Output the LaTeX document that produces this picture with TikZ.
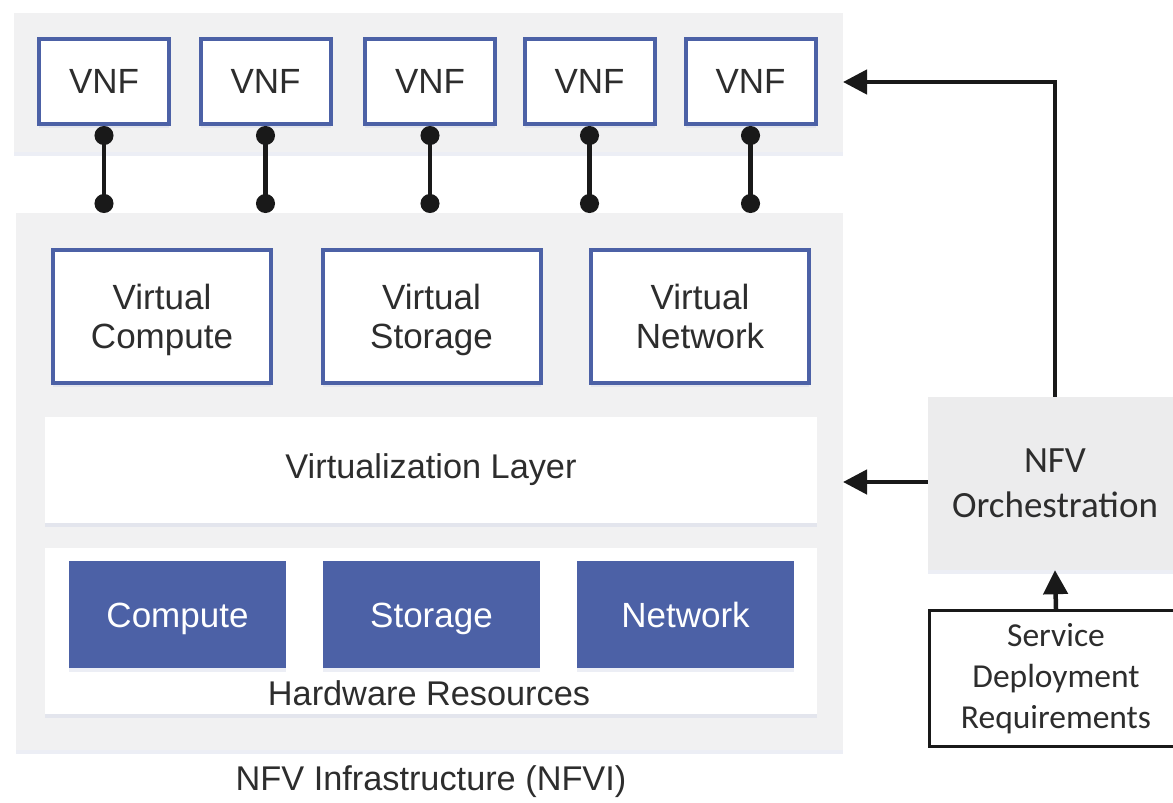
\documentclass[tikz,border=0pt]{standalone}
\usepackage{fontspec}
\setmainfont{Liberation Sans}
\newfontfamily\calibri{Carlito}
\usetikzlibrary{arrows.meta,shadows}
\definecolor{nfvblue}{RGB}{76,97,166}
\definecolor{panelgray}{RGB}{241,241,242}
\definecolor{orchgray}{RGB}{236,236,237}
\definecolor{txtgray}{RGB}{45,45,45}
\tikzset{
  shade/.style={drop shadow={shadow xshift=0pt,shadow yshift=-4pt,fill=nfvblue!30,opacity=0.35}},
  panel/.style={fill=panelgray,inner sep=0pt,shade},
  vnfbox/.style={draw=nfvblue,line width=4pt,fill=white,minimum width=130pt,minimum height=85pt,
    inner sep=0pt,text=txtgray,font=\fontsize{35}{38}\selectfont,shade},
  virtbox/.style={draw=nfvblue,line width=4pt,fill=white,minimum width=218pt,minimum height=133pt,
    inner sep=0pt,align=center,text=txtgray,text height=70pt,text depth=6pt,
    font=\fontsize{35}{39}\selectfont,shade},
  layerbox/.style={fill=white,minimum width=772pt,inner sep=0pt,text=txtgray,
    font=\fontsize{34.3}{38}\selectfont,shade},
  hwbox/.style={fill=nfvblue,minimum width=217pt,minimum height=107pt,inner sep=0pt,text=white,
    text height=25pt,text depth=0pt,font=\fontsize{35}{38}\selectfont,shade},
  label/.style={text=txtgray,font=\fontsize{34.3}{38}\selectfont},
  orchbox/.style={fill=orchgray,minimum width=254pt,minimum height=173pt,inner sep=0pt,align=center,
    text=txtgray,font=\calibri\fontsize{37}{45}\selectfont,shade},
  reqbox/.style={draw=black!90,line width=3pt,fill=white,minimum width=253pt,minimum height=136pt,
    inner sep=0pt,align=center,text=txtgray,font=\calibri\fontsize{33.5}{41}\selectfont},
  link/.style={line width=4.5pt,black!90,{Circle[length=19pt]}-{Circle[length=19pt]}},
  flow/.style={line width=4.5pt,black!90,-{Triangle[length=24pt,width=24pt]}}
}
\begin{document}
\begin{tikzpicture}[x=1pt,y=-1pt]
  \useasboundingbox[fill=white] (0,0) rectangle (1173,803);

    % Background panels
  \node[panel,minimum width=829pt,minimum height=139pt] (vnfpanel) at (428.5,82.5) {};
  \node[panel,minimum width=827pt,minimum height=537pt] (nfvi) at (429.5,481.5) {};

    % VNFs and their links
  \foreach \x [count=\i] in {104,265.5,430,589.5,750.5} {
    \node[vnfbox] (vnf\i) at (\x,81.5) {VNF};
    \coordinate (dot\i) at (\x,213);
    \draw[link] (vnf\i.south) -- (dot\i);
  }

    % Virtual resources
  \node[virtbox] (vcompute) at (162,316.5) {Virtual\\Compute};
  \node[virtbox] (vstorage) at (431.5,316.5) {Virtual\\Storage};
  \node[virtbox] (vnetwork) at (700,316.5) {Virtual\\Network};

    % Virtualization layer
  \node[layerbox,minimum height=106pt] (vlayer) at (431,470) {Virtualization Layer};

    % Hardware resources
  \node[layerbox,minimum height=166pt] (hwlayer) at (431,631) {};
  \node[hwbox] (compute) at (177.5,614.5) {Compute};
  \node[hwbox] (storage) at (431.5,614.5) {Storage};
  \node[hwbox] (network) at (685.5,614.5) {Network};
  \node[label] (hwlabel) at (429,693) {Hardware Resources};
  \node[label] (nfvilabel) at (431,782) {NFV Infrastructure (NFVI)};

    % Orchestration side
  \node[orchbox] (orch) at (1055,483.5) {NFV\\Orchestration};
  \node[reqbox] (req) at (1056,678.5) {Service\\Deployment\\Requirements};

    % Arrows
  \coordinate (vnfin) at (843,82);
  \coordinate (vlin) at (843,482);
  \draw[flow] (orch.north) |- (vnfin);
  \draw[flow] (orch.west |- vlin) -- (vlin);
  \draw[flow] (req.north) -- (orch.south);
\end{tikzpicture}
\end{document}
